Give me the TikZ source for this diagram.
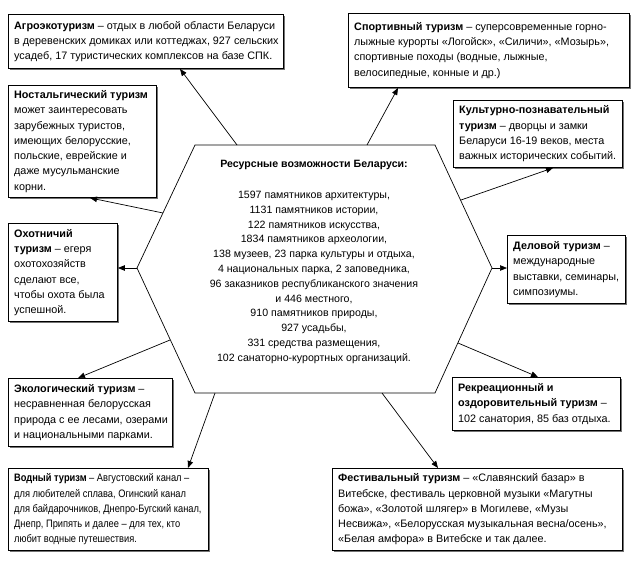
\documentclass[tikz,border=0pt]{standalone}
\usepackage{fontspec}
\setmainfont{Liberation Sans}
\newfontfamily\narrowfont[FakeStretch=0.86]{Liberation Sans}
\usetikzlibrary{arrows.meta,shadows,calc}
\begin{document}
\begin{tikzpicture}[x=1pt,y=-1pt,
  frame/.style={draw=black, line width=0.9pt, fill=white, anchor=north west, inner sep=0pt,
    drop shadow={shadow xshift=1.6pt, shadow yshift=-1.6pt, fill=black!55, opacity=1}},
  boxtext/.style={align=left, anchor=west, inner sep=0pt, font=\fontsize{10.8}{15.3}\selectfont},
  link/.style={line width=0.7pt, -{Triangle[length=7pt,width=5.5pt]}},
  hexline/.style={line width=0.7pt}]
\useasboundingbox (0,0) rectangle (635,562);

% hexagon
\coordinate (h1) at (195,145);
\coordinate (h2) at (435,145);
\coordinate (h3) at (492,268);
\coordinate (h4) at (435,393);
\coordinate (h5) at (195,393);
\coordinate (h6) at (137,268);
\draw[hexline] (h1) -- (h2) -- (h3) -- (h4) -- (h5) -- (h6) -- cycle;
\node[align=center, font=\fontsize{10.6}{14.8}\selectfont] (res) at (314,262)
 {\textbf{Ресурсные возможности Беларуси:}\\[16pt]
 1597 памятников архитектуры,\\
 1131 памятников истории,\\
 122 памятников искусства,\\
 1834 памятников археологии,\\
 138 музеев, 23 парка культуры и отдыха,\\
 4 национальных парка, 2 заповедника,\\
 96 заказников республиканского значения\\
 и 446 местного,\\
 910 памятников природы,\\
 927 усадьбы,\\
 331 средства размещения,\\
 102 санаторно-курортных организаций.};

% boxes: frames
\node[frame, minimum width=275pt, minimum height=54pt] (agro) at (8,14) {};
\node[frame, minimum width=281pt, minimum height=74pt] (sport) at (348,13) {};
\node[frame, minimum width=148pt, minimum height=112pt] (nost) at (8,85) {};
\node[frame, minimum width=169pt, minimum height=67pt] (kult) at (453,100) {};
\node[frame, minimum width=109pt, minimum height=98pt] (ohot) at (8,223) {};
\node[frame, minimum width=118pt, minimum height=68pt] (delo) at (507,235) {};
\node[frame, minimum width=164pt, minimum height=68pt] (eko) at (8,378) {};
\node[frame, minimum width=168pt, minimum height=53pt] (rekr) at (452,377) {};
\node[frame, minimum width=200pt, minimum height=82pt] (vod) at (8,468) {};
\node[frame, minimum width=290pt, minimum height=82pt] (fest) at (332,468) {};

% boxes: texts
\node[boxtext] (agro-t) at ([xshift=6pt]agro.west)
 {\textbf{Агроэкотуризм} – отдых в любой области Беларуси\\в деревенских домиках или коттеджах, 927 сельских\\усадеб, 17 туристических комплексов на базе СПК.};
\node[boxtext] (sport-t) at ([xshift=6pt]sport.west)
 {\textbf{Спортивный туризм} – суперсовременные горно-\\лыжные курорты «Логойск», «Силичи», «Мозырь»,\\спортивные походы (водные, лыжные,\\велосипедные, конные и др.)};
\node[boxtext] (nost-t) at ([xshift=6pt]nost.west)
 {\textbf{Ностальгический туризм}\\может заинтересовать\\зарубежных туристов,\\имеющих белорусские,\\польские, еврейские и\\даже мусульманские\\корни.};
\node[boxtext] (kult-t) at ([xshift=6pt]kult.west)
 {\textbf{Культурно-познавательный}\\\textbf{туризм} – дворцы и замки\\Беларуси 16-19 веков, места\\важных исторических событий.};
\node[boxtext] (ohot-t) at ([xshift=6pt]ohot.west)
 {\textbf{Охотничий}\\\textbf{туризм} – егеря\\охотохозяйств\\сделают все,\\чтобы охота была\\успешной.};
\node[boxtext] (delo-t) at ([xshift=6pt]delo.west)
 {\textbf{Деловой туризм} –\\международные\\выставки, семинары,\\симпозиумы.};
\node[boxtext] (eko-t) at ([xshift=6pt]eko.west)
 {\textbf{Экологический туризм} –\\несравненная белорусская\\природа с ее лесами, озерами\\и национальными парками.};
\node[boxtext] (rekr-t) at ([xshift=6pt]rekr.west)
 {\textbf{Рекреационный и}\\\textbf{оздоровительный туризм} –\\102 санатория, 85 баз отдыха.};
\node[boxtext, font=\narrowfont\fontsize{10.8}{15.3}\selectfont] (vod-t) at ([xshift=6pt]vod.west)
 {\textbf{Водный туризм} – Августовский канал –\\для любителей сплава, Огинский канал\\для байдарочников, Днепро-Бугский канал,\\Днепр, Припять и далее – для тех, кто\\любит водные путешествия.};
\node[boxtext] (fest-t) at ([xshift=6pt]fest.west)
 {\textbf{Фестивальный туризм} – «Славянский базар» в\\Витебске, фестиваль церковной музыки «Магутны\\божа», «Золотой шлягер» в Могилеве, «Музы\\Несвижа», «Белорусская музыкальная весна/осень»,\\«Белая амфора» в Витебске и так далее.};

% connector start points on the hexagon
\coordinate (sA) at (237,145);
\coordinate (sS) at (367,145);
\coordinate (sN) at (163,213);
\coordinate (sK) at (461,200);
\coordinate (sE) at (170,340);
\coordinate (sR) at (458,343);
\coordinate (sV) at (215,393);
\coordinate (sF) at (382,393);

\draw[link] (sA) -- (agro.south -| 180,0);
\draw[link] (sS) -- (sport.south -| 398,0);
\draw[link] (sN) -- (nost.south -| 90,0);
\draw[link] (sK) -- (kult.south -| 553,0);
\draw[link] (h6) -- (h6 -| ohot.east);
\draw[link] (h3) -- (h3 -| delo.west);
\draw[link] (sE) -- (eko.north -| 78,0);
\draw[link] (sR) -- (rekr.north -| 538,0);
\draw[link] (sV) -- (vod.north -| 188,0);
\draw[link] (sF) -- (fest.north -| 438,0);
\end{tikzpicture}
\end{document}
